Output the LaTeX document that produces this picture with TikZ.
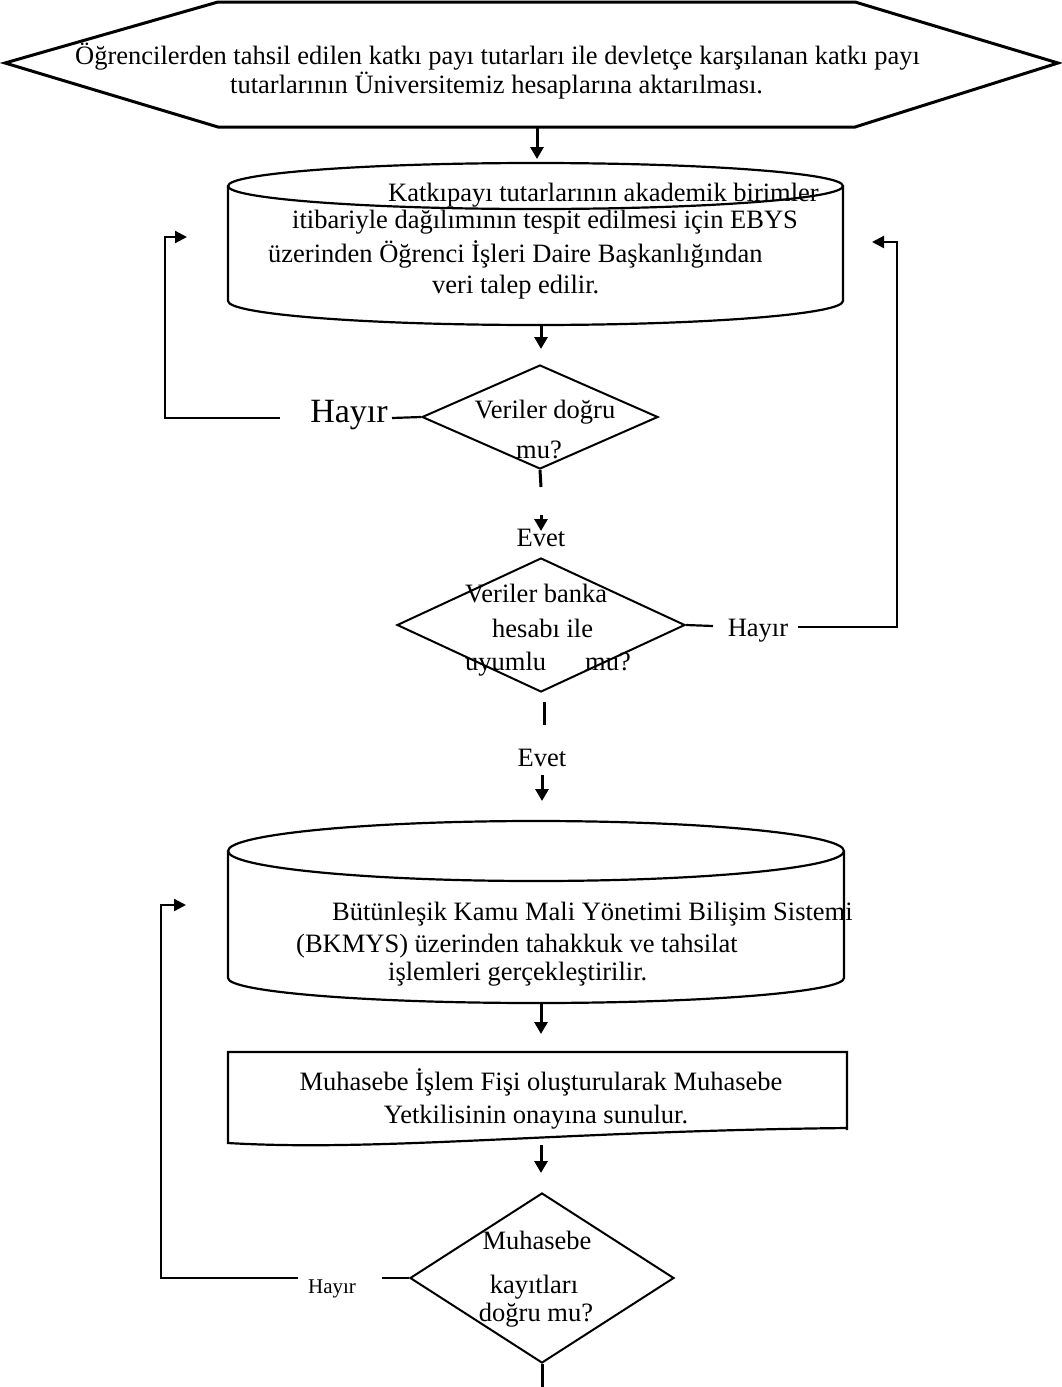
\documentclass[tikz,border=0pt]{standalone}
\usepackage{fontspec}
\setmainfont{Liberation Serif}
\usetikzlibrary{arrows.meta,shapes.geometric}
\begin{document}
\begin{tikzpicture}[x=1pt,y=-1pt,
  txt/.style={font=\fontsize{26.5}{30}\selectfont, inner sep=0pt},
  bigtxt/.style={font=\fontsize{34}{38}\selectfont, inner sep=0pt},
  smalltxt/.style={font=\fontsize{21}{24}\selectfont, inner sep=0pt},
  outline/.style={line width=2.2pt},
  conn/.style={line width=2.2pt},
  vconn/.style={line width=3pt},
  arr/.style={vconn,-{Triangle[length=12pt,width=13pt]}},
  harr/.style={conn,-{Triangle[length=12pt,width=12pt]}},
  dec/.style={diamond, draw, line width=2pt, inner sep=0pt},
  box/.style={inner sep=0pt, draw=none}]
\useasboundingbox (0,0) rectangle (1061,1387);
\fill[white] (0,0) rectangle (1061,1387);

% ---------- hexagon ----------
\node[box, minimum width=1053pt, minimum height=125pt] (hex) at (531.5,64.5) {};
\draw[line width=3pt, line join=miter] (5,63) -- (218,2) -- (855,2) -- (1058,63) -- (855,127) -- (218,127) -- cycle;
\node[txt, anchor=west] (hext1) at (75,57) {Öğrencilerden tahsil edilen katkı payı tutarları ile devletçe karşılanan katkı payı};
\node[txt, anchor=west] (hext2) at (230,86) {tutarlarının Üniversitemiz hesaplarına aktarılması.};

% ---------- cylinder 1 ----------
\node[box, minimum width=615pt, minimum height=162pt] (cyl1) at (535.5,244) {};
\draw[outline] (535.5,186) ellipse [x radius=307.5pt, y radius=23pt];
\draw[outline] (228,186) -- (228,301) arc[start angle=180, end angle=360, x radius=307.5pt, y radius=24pt] -- (843,186);
\node[txt, anchor=base west] (c1t1) at (388,201) {Katkıpayı tutarlarının akademik birimler};
\node[txt, anchor=base west] (c1t2) at (292,228) {itibariyle dağılımının tespit edilmesi için EBYS};
\node[txt, anchor=base west] (c1t3) at (268,262) {üzerinden Öğrenci İşleri Daire Başkanlığından};
\node[txt, anchor=base west] (c1t4) at (432,293) {veri talep edilir.};

% ---------- decision 1 ----------
\node[dec, minimum width=236pt, minimum height=104pt] (d1) at (540,417) {};
\node[txt] (d1t1) at (545,412) {Veriler doğru};
\node[txt] (d1t2) at (539,450) {mu?};
\node[bigtxt] (no1) at (349,415) {Hayır};
\node[txt] (yes1) at (541,538) {Evet};

% ---------- decision 2 ----------
\node[dec, minimum width=288pt, minimum height=134pt] (d2) at (541,625) {};
\node[txt, anchor=base west] (d2t1) at (465,602) {Veriler banka};
\node[txt, anchor=base west] (d2t2) at (492,637) {hesabı ile};
\node[txt, anchor=base west] (d2t3) at (465,670) {uyumlu};
\node[txt, anchor=base west] (d2t4) at (585,670) {mu?};
\node[txt] (no2) at (758,631) {Hayır};
\node[txt] (yes2) at (542,758) {Evet};

% ---------- cylinder 2 ----------
\node[box, minimum width=616pt, minimum height=181pt] (cyl2) at (536,912.5) {};
\draw[outline] (536,851) ellipse [x radius=308pt, y radius=30pt];
\draw[outline] (228,851) -- (228,978) arc[start angle=180, end angle=360, x radius=308pt, y radius=25pt] -- (844,851);
\node[txt, anchor=base west] (c2t1) at (332,920) {Bütünleşik Kamu Mali Yönetimi Bilişim Sistemi};
\node[txt, anchor=base west] (c2t2) at (296,952) {(BKMYS) üzerinden tahakkuk ve tahsilat};
\node[txt, anchor=base west] (c2t3) at (388,980) {işlemleri gerçekleştirilir.};

% ---------- document ----------
\node[box, minimum width=619pt, minimum height=93pt] (doc) at (537.5,1098.5) {};
\draw[outline, line join=miter] (847,1130) -- (847,1052) -- (228,1052) -- (228,1143)
   .. controls (380,1152) and (560,1131) .. (847,1128);
\node[txt] (dt1) at (541,1082) {Muhasebe İşlem Fişi oluşturularak Muhasebe};
\node[txt] (dt2) at (536,1117) {Yetkilisinin onayına sunulur.};

% ---------- decision 3 ----------
\node[dec, minimum width=264pt, minimum height=170pt] (d3) at (542,1278) {};
\node[txt] (d3t1) at (537,1240) {Muhasebe};
\node[txt] (d3t2) at (534,1287) {kayıtları};
\node[txt] (d3t3) at (536,1315) {doğru mu?};
\node[smalltxt] (no3) at (332,1289) {Hayır};

% ---------- coordinates ----------
\coordinate (l1a) at (280,418);
\coordinate (l1b) at (165,418);
\coordinate (l1c) at (165,237);
\coordinate (l1d) at (187,237);
\coordinate (r1a) at (798,627);
\coordinate (r1b) at (897,627);
\coordinate (r1c) at (897,242);
\coordinate (r1d) at (872,242);
\coordinate (l2a) at (298,1278);
\coordinate (l2b) at (161,1278);
\coordinate (l2c) at (161,905);
\coordinate (l2d) at (186,905);
\coordinate (s1) at (392,418);
\coordinate (s2) at (713,626);
\coordinate (s3) at (382,1278);
\coordinate (e1a) at (541,487);
\coordinate (e1b) at (541,515);
\coordinate (e1c) at (541,531);
\coordinate (e2a) at (544,702);
\coordinate (e2b) at (544,725);
\coordinate (e2c) at (542,775);
\coordinate (e2d) at (542,801);
\coordinate (bot) at (542,1387);

% ---------- connectors ----------
\draw[arr] (hex.south -| 537,0) -- (537,159);
\draw[arr] (541,325) -- (541,349);
\draw[vconn] (d1.south) -- (e1a);
\draw[arr] (e1b) -- (e1c);
\draw[conn] (s1) -- (d1.west);
\draw[harr] (l1a) -- (l1b) -- (l1c) -- (l1d);

\draw[conn] (d2.east) -- (s2);
\draw[harr] (r1a) -- (r1b) -- (r1c) -- (r1d);
\draw[vconn] (e2a) -- (e2b);
\draw[arr] (e2c) -- (e2d);

\draw[arr] (541,1003) -- (541,1034);
\draw[arr] (541,1145) -- (541,1173);

\draw[conn] (s3) -- (d3.west);
\draw[harr] (l2a) -- (l2b) -- (l2c) -- (l2d);
\draw[vconn] (d3.south) -- (bot);
\end{tikzpicture}
\end{document}
